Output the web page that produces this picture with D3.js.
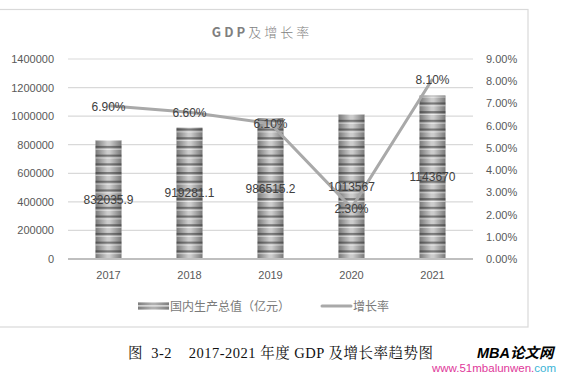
<!DOCTYPE html>
<html><head><meta charset="utf-8">
<script src="https://cdn.jsdelivr.net/npm/d3@7"></script>
<style>body{margin:0;background:#fff}svg{display:block}</style>
</head><body>
<svg id="c" width="562" height="374"></svg>
<script>
const years = ["2017","2018","2019","2020","2021"];
const gdp = [832035.9, 919281.1, 986515.2, 1013567, 1143670];
const gdpLabels = ["832035.9","919281.1","986515.2","1013567","1143670"];
const growth = [6.9, 6.6, 6.1, 2.3, 8.1];
const growthLabels = ["6.90%","6.60%","6.10%","2.30%","8.10%"];
const leftTicks = [0,200000,400000,600000,800000,1000000,1200000,1400000];
const rightTicks = [0,1,2,3,4,5,6,7,8,9];
const title = "GDP及增长率";
const legendNames = ["国内生产总值（亿元）","增长率"];
const caption = "图  3-2    2017-2021 年度 GDP 及增长率趋势图";

const svg = d3.select("#c");
const defs = svg.append("defs");
const g1 = defs.append("linearGradient").attr("id","barGrad").attr("x1","0").attr("x2","1").attr("y1","0").attr("y2","0");
[["0%","#828282"],["45%","#f2f2f2"],["55%","#f2f2f2"],["100%","#828282"]].forEach(s=>g1.append("stop").attr("offset",s[0]).attr("stop-color",s[1]));
const pat = defs.append("pattern").attr("id","stripes").attr("patternUnits","userSpaceOnUse").attr("width",4).attr("height",8.7).attr("y",259);
pat.append("rect").attr("x",0).attr("y",0).attr("width",4).attr("height",2.6).attr("fill","rgba(50,50,50,0.62)");
pat.append("rect").attr("x",0).attr("y",2.6).attr("width",4).attr("height",1).attr("fill","rgba(255,255,255,0.7)");
pat.append("rect").attr("x",0).attr("y",3.6).attr("width",4).attr("height",5.1).attr("fill","rgba(90,90,90,0.25)");

// frame
svg.append("rect").attr("x",-2).attr("y",9.5).attr("width",530).attr("height",317.5)
  .attr("fill","none").attr("stroke","#d9d9d9").attr("stroke-width",1.2);

const x = d3.scaleBand().domain(years).range([68,473]).paddingInner(0.68).paddingOuter(0.34);
const y = d3.scaleLinear().domain([0,1400000]).range([259,59]);
const y2 = d3.scaleLinear().domain([0,9]).range([259,59]);

// gridlines
svg.append("g").selectAll("line").data(leftTicks.filter(d=>d>0)).join("line")
  .attr("x1",68).attr("x2",473).attr("y1",d=>y(d)).attr("y2",d=>y(d))
  .attr("stroke","#d9d9d9").attr("stroke-width",1.2);

const font = "'Liberation Sans',Arial,sans-serif";
// left axis
const la = svg.append("g").attr("transform","translate(68,0)")
  .call(d3.axisLeft(y).tickValues(leftTicks).tickSize(0).tickPadding(14).tickFormat(d3.format("d")));
la.select(".domain").remove();
la.selectAll("text").attr("fill","#595959").style("font-family",font).style("font-size","11px");

// right axis
const ra = svg.append("g").attr("transform","translate(473,0)")
  .call(d3.axisRight(y2).tickValues(rightTicks).tickSize(0).tickPadding(13).tickFormat(d=>d.toFixed(2)+"%"));
ra.select(".domain").remove();
ra.selectAll("text").attr("fill","#595959").style("font-family",font).style("font-size","11px");

// bars
const bars = svg.append("g");
bars.selectAll("rect.b").data(gdp).join("rect").attr("class","b")
  .attr("x",(d,i)=>x(years[i])).attr("width",x.bandwidth())
  .attr("y",d=>y(d)).attr("height",d=>259-y(d)).attr("fill","url(#barGrad)");
bars.selectAll("rect.s").data(gdp).join("rect").attr("class","s")
  .attr("x",(d,i)=>x(years[i])).attr("width",x.bandwidth())
  .attr("y",d=>y(d)).attr("height",d=>259-y(d)).attr("fill","url(#stripes)");

// baseline
svg.append("line").attr("x1",68).attr("x2",473).attr("y1",259).attr("y2",259)
  .attr("stroke","#bfbfbf").attr("stroke-width",2);

// x axis
const xa = svg.append("g").attr("transform","translate(0,259)")
  .call(d3.axisBottom(x).tickSize(0).tickPadding(12));
xa.select(".domain").remove();
xa.selectAll("text").attr("fill","#595959").style("font-family",font).style("font-size","11px");

// line
const cx = i => x(years[i]) + x.bandwidth()/2;
svg.append("path").datum(growth)
  .attr("d", d3.line().x((d,i)=>cx(i)).y(d=>y2(d)))
  .attr("fill","none").attr("stroke","#a9a9a9").attr("stroke-width",3).attr("stroke-linejoin","round");

// bar labels
svg.append("g").selectAll("text").data(gdp).join("text")
  .attr("x",(d,i)=>cx(i)).attr("y",d=>(y(d)+259)/2+4)
  .attr("text-anchor","middle").attr("fill","#404040")
  .style("font-family",font).style("font-size","12px")
  .text((d,i)=>gdpLabels[i]);
// line labels
svg.append("g").selectAll("text").data(growth).join("text")
  .attr("x",(d,i)=>cx(i)).attr("y",d=>y2(d)+5)
  .attr("text-anchor","middle").attr("fill","#404040")
  .style("font-family",font).style("font-size","12px")
  .text((d,i)=>growthLabels[i]);

// title
svg.append("text").attr("x",262).attr("y",37).attr("text-anchor","middle")
  .attr("fill","#7f7f7f").style("font-family","'Noto Sans CJK SC',sans-serif")
  .style("font-size","13px").style("letter-spacing","3px")
  .html('<tspan font-weight="bold">GDP</tspan><tspan font-weight="300">及增长率</tspan>');

// legend
const lg = svg.append("g");
lg.append("rect").attr("x",138).attr("y",302.5).attr("width",31).attr("height",7).attr("fill","url(#barGrad)");
lg.append("rect").attr("x",138).attr("y",302.5).attr("width",31).attr("height",7).attr("fill","#7a7a7a").attr("opacity",0.55);
lg.append("rect").attr("x",138).attr("y",305.3).attr("width",31).attr("height",1.2).attr("fill","#eeeeee");
lg.append("text").attr("x",170).attr("y",310.5).attr("fill","#7a7a7a")
  .style("font-family","'Noto Sans CJK SC',sans-serif").style("font-size","12px").text(legendNames[0]);
lg.append("line").attr("x1",322).attr("x2",351).attr("y1",306).attr("y2",306)
  .attr("stroke","#a9a9a9").attr("stroke-width",3).attr("stroke-linecap","round");
lg.append("text").attr("x",353).attr("y",310.5).attr("fill","#7a7a7a")
  .style("font-family","'Noto Sans CJK SC',sans-serif").style("font-size","12px").text(legendNames[1]);

// caption
svg.append("text").attr("x",128).attr("y",358).attr("fill","#111")
  .style("font-family","'Liberation Serif','Noto Serif CJK SC','Noto Sans CJK SC',serif")
  .style("font-size","14.5px").style("white-space","pre").attr("xml:space","preserve")
  .attr("textLength",305).attr("lengthAdjust","spacing").text(caption);

// watermark
svg.append("text").attr("x",477).attr("y",358).attr("fill","#000")
  .style("font-family","'Liberation Sans',Arial,'Noto Sans CJK SC',sans-serif")
  .style("font-size","14.5px").style("font-weight","bold").style("font-style","italic").text("MBA论文网");
const wm = svg.append("text").attr("x",432).attr("y",372)
  .style("font-family","'Liberation Sans',Arial,sans-serif").style("font-size","11.5px");
wm.append("tspan").attr("fill","#e0389a").text("www.51mbalunwen.");
wm.append("tspan").attr("fill","#3bb3d6").text("com");
</script>
</body></html>
